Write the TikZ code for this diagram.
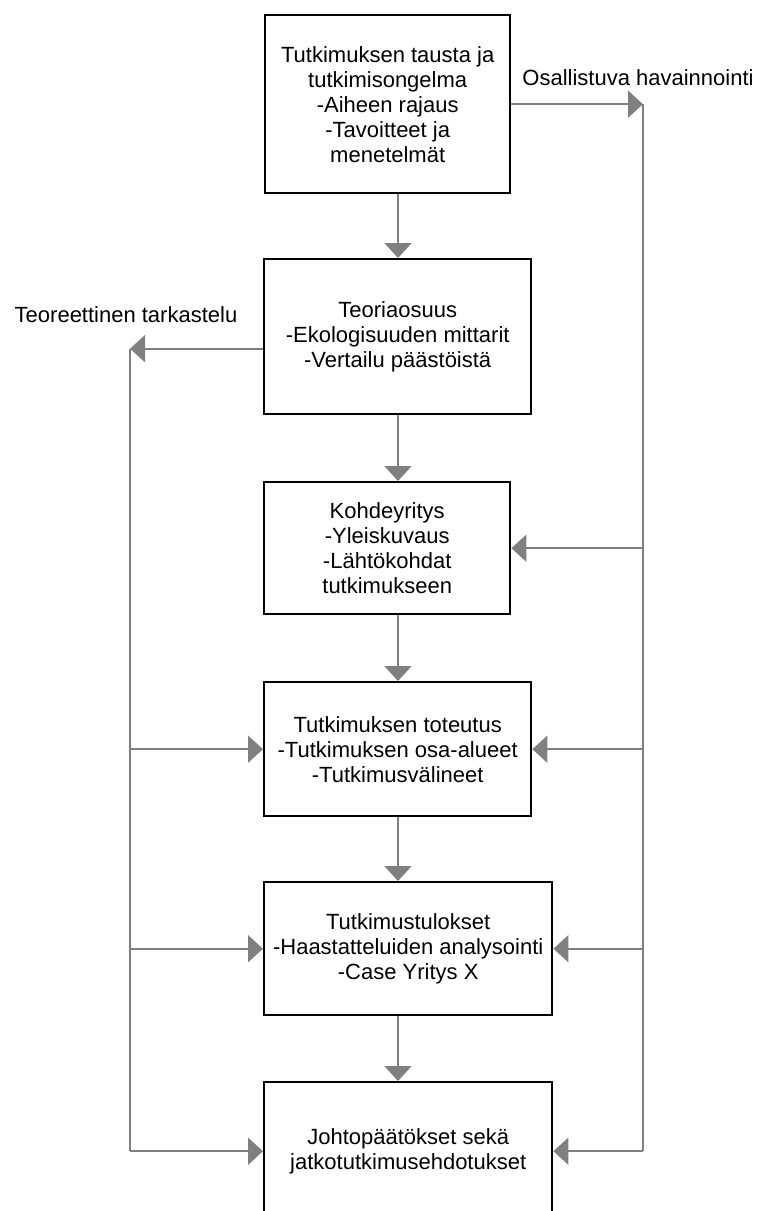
\documentclass[tikz,border=0pt]{standalone}
\usepackage{fontspec}
\setmainfont{Liberation Sans}
\usetikzlibrary{arrows.meta}
\definecolor{linkgray}{RGB}{128,128,128}

\begin{document}
\begin{tikzpicture}[x=1pt, y=-1pt,
  every node/.style = {align=center, font=\fontsize{22}{25}\selectfont},
  box/.style = {shape=rectangle, draw, line width=2.4pt, anchor=north west, inner sep=0pt},
  line/.style = {draw=linkgray, line width=2pt},
  link/.style = {line, -{Triangle[length=15pt,width=27pt]}, color=linkgray}]
  \useasboundingbox (0,0) rectangle (760,1211);
  \clip (0,0) rectangle (760,1211);
  \coordinate (mid) at (398,0);
  \coordinate (vasen) at (130,0);
  \coordinate (oikea) at (643,0);
  \node[box, minimum width=245pt, minimum height=178pt] (tausta) at (264,14)
    {Tutkimuksen tausta ja\\tutkimisongelma\\-Aiheen rajaus\\-Tavoitteet ja\\menetelmät};
  \node[box, minimum width=267pt, minimum height=155pt] (teoria) at (263,258)
    {Teoriaosuus\\-Ekologisuuden mittarit\\-Vertailu päästöistä};
  \node[box, minimum width=246pt, minimum height=132pt] (kohde) at (263,481)
    {Kohdeyritys\\-Yleiskuvaus\\-Lähtökohdat\\tutkimukseen};
  \node[box, minimum width=267pt, minimum height=134pt] (toteutus) at (263,681)
    {Tutkimuksen toteutus\\-Tutkimuksen osa-alueet\\-Tutkimusvälineet};
  \node[box, minimum width=288pt, minimum height=133pt] (tulokset) at (263,881)
    {Tutkimustulokset\\-Haastatteluiden analysointi\\-Case Yritys X};
  \node[box, minimum width=288pt, minimum height=138pt] (johto) at (263,1081)
    {Johtopäätökset sekä\\jatkotutkimusehdotukset};
  \node (osallistuva) at (638,78) {Osallistuva havainnointi};
  \node (teoreettinen) at (126,315) {Teoreettinen tarkastelu};
  % main flow
  \draw[link] (tausta.south -| mid) -- (teoria.north -| mid);
  \draw[link] (teoria.south -| mid) -- (kohde.north -| mid);
  \draw[link] (kohde.south -| mid) -- (toteutus.north -| mid);
  \draw[link] (toteutus.south -| mid) -- (tulokset.north -| mid);
  \draw[link] (tulokset.south -| mid) -- (johto.north -| mid);
  % right side
  \draw[link] (tausta.east) -- (tausta.east -| oikea);
  \draw[line] (tausta.east -| oikea) -- (johto.east -| oikea);
  \foreach \n in {kohde, toteutus, tulokset, johto}
    \draw[link] (\n.east -| oikea) -- (\n.east);
  % left side
  \draw[link] ([yshift=-12pt]teoria.west) -- ([yshift=-12pt]teoria.west -| vasen);
  \draw[line] ([yshift=-12pt]teoria.west -| vasen) -- (johto.west -| vasen);
  \foreach \n in {toteutus, tulokset, johto}
    \draw[link] (\n.west -| vasen) -- (\n.west);
\end{tikzpicture}
\end{document}
